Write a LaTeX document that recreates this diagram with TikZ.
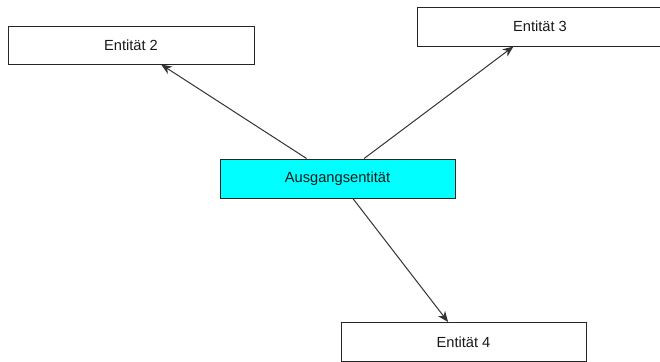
\documentclass[tikz,border=0pt]{standalone}
\usepackage{fontspec}
\setmainfont{Liberation Sans}
\usetikzlibrary{arrows.meta}
\definecolor{aqua}{RGB}{0,255,255}
\begin{document}
\begin{tikzpicture}[x=0.75pt,y=-0.75pt,
  entbox/.style={draw=black!85, line width=0.75pt, fill=white, inner sep=0pt,
    font=\fontsize{11}{13}\selectfont, text=black!90},
  link/.style={draw=black!80, line width=0.75pt, -{Stealth[length=8pt,width=6.5pt,inset=2.5pt]}}]
\useasboundingbox (0,0) rectangle (660,361);
\clip (0,0) rectangle (660,361);
\fill[white] (0,0) rectangle (660,361);
\node[entbox, minimum width=184.5pt, minimum height=28.5pt] (e2) at (131,45) {Entität 2};
\node[entbox, minimum width=184.5pt, minimum height=29.25pt] (e3) at (540,26.5) {Entität 3};
\node[entbox, fill=aqua, minimum width=176.25pt, minimum height=29.25pt] (a) at (337.5,178.5) {Ausgangsentität};
\node[entbox, minimum width=183.75pt, minimum height=29.25pt] (e4) at (463.5,342) {Entität 4};
\draw[link] (a) -- (e2);
\draw[link] (a) -- (e3);
\draw[link] (a) -- (e4);
\end{tikzpicture}
\end{document}
